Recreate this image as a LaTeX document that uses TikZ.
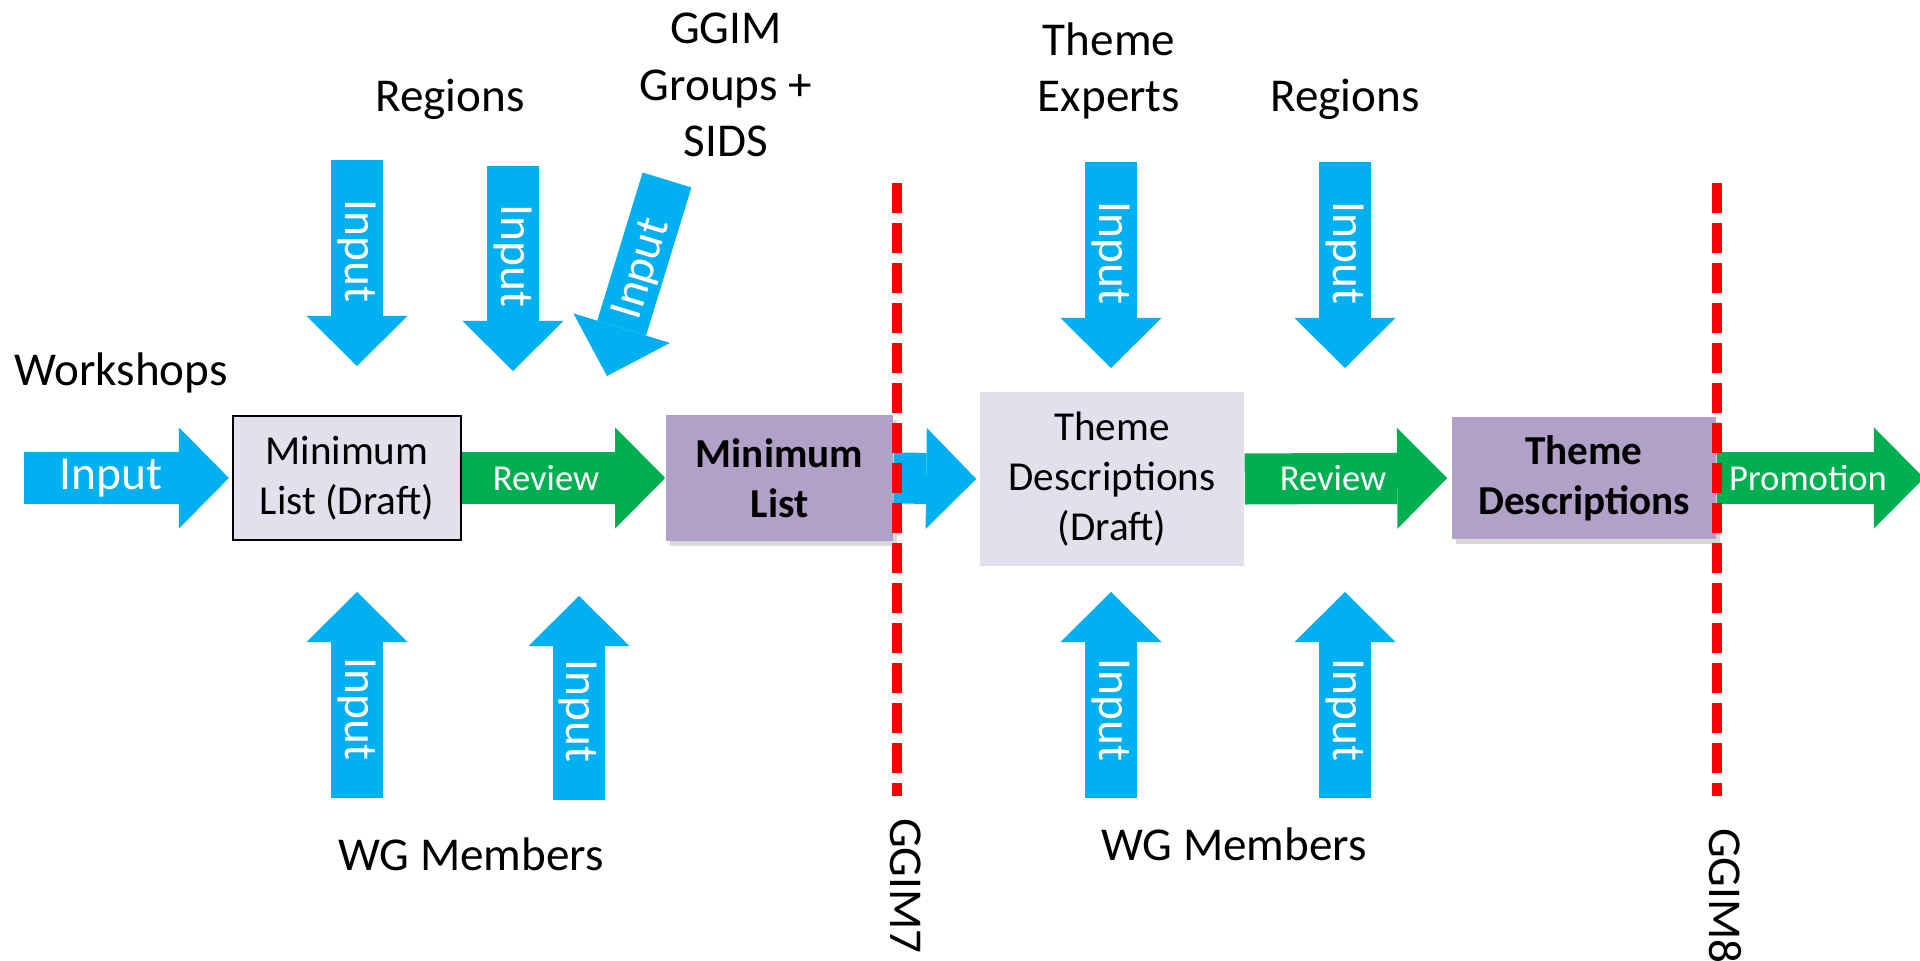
\documentclass[tikz,border=0pt]{standalone}
\usepackage{fontspec}
\setmainfont{Carlito}
\usepackage{tikz}
\usetikzlibrary{arrows.meta,shadows}

\definecolor{inblue}{HTML}{00B0F0}
\definecolor{revgreen}{HTML}{00B050}
\definecolor{listpurple}{HTML}{B1A0C7}
\definecolor{draftgrey}{HTML}{E4DFEC}

\begin{document}
\begin{tikzpicture}[x=0.01cm,y=-0.01cm,
  blockarr/.style={line width=0.51cm,-{Triangle[length=0.5cm,width=1.01cm,line width=0pt]}},
  inarr/.style={blockarr,draw=inblue},
  revarr/.style={blockarr,draw=revgreen},
  big/.style={font=\fontsize{13.4}{16.2}\selectfont,align=center,inner sep=0pt},
  arrtxt/.style={text=white,inner sep=0pt,font=\fontsize{13.5}{16}\selectfont},
  revtxt/.style={text=white,inner sep=0pt,font=\fontsize{10.4}{12}\selectfont},
  draftbox/.style={fill=draftgrey,align=center,inner sep=0pt,font=\fontsize{11.7}{14.3}\selectfont},
  listbox/.style={fill=listpurple,align=center,inner sep=0pt,font=\fontsize{11.7}{14.3}\selectfont\bfseries,
    drop shadow={shadow xshift=0.04cm,shadow yshift=-0.05cm,opacity=0.3}},
  milestone/.style={red,line width=0.1cm,dash pattern=on 0.3cm off 0.1cm}]
\useasboundingbox (0,0) rectangle (1920,961);

% boxes of the main row
\node[draftbox,draw=black,line width=0.02cm,minimum width=2.28cm,minimum height=1.24cm] (mld) at (347,478) {Minimum\\List (Draft)};
\node[listbox,minimum width=2.27cm,minimum height=1.25cm] (ml) at (779.5,478) {Minimum\\List};
\node[draftbox,minimum width=2.64cm,minimum height=1.74cm] (tdd) at (1112,479) {Theme\\Descriptions\\(Draft)};
\node[listbox,minimum width=2.64cm,minimum height=1.21cm] (td) at (1584,478) {Theme\\Descriptions};

% main row arrows
\coordinate (wsin) at (24,478);
\coordinate (promend) at (1924,478);
\draw[inarr,shorten >=0.03cm] (wsin) -- (mld.west);
\draw[revarr] (mld.east) -- (ml.west);
\draw[inarr,shorten >=0.03cm] (ml.east) -- (tdd.west);
\draw[revarr,shorten >=0.04cm] (tdd.east) -- (td.west);
\draw[revarr] (td.east) -- (promend);
\node[arrtxt] at (111,478) {Input};
\node[revtxt] at (546,478) {Review};
\node[revtxt] at (1333,478) {Review};
\node[revtxt] at (1808,478) {Promotion};

% inputs from above
\coordinate (regla) at (357,160);
\coordinate (reglb) at (357,366);
\coordinate (reglc) at (513,166);
\coordinate (regld) at (513,371);
\coordinate (ggima) at (667,180);
\coordinate (ggimb) at (607,376);
\coordinate (expa) at (1111,162);
\coordinate (expb) at (1111,368);
\coordinate (regra) at (1345,162);
\coordinate (regrb) at (1345,368);
\draw[inarr] (regla) -- (reglb);
\draw[inarr] (reglc) -- (regld);
\draw[inarr] (ggima) -- (ggimb);
\draw[inarr] (expa) -- (expb);
\draw[inarr] (regra) -- (regrb);
\node[arrtxt,rotate=-90] at (357,251) {Input};
\node[arrtxt,rotate=-90] at (513,256) {Input};
\node[arrtxt,rotate=73] at (643,269) {Input};
\node[arrtxt,rotate=-90] at (1111,253) {Input};
\node[arrtxt,rotate=-90] at (1345,253) {Input};

% inputs from below
\coordinate (wgla) at (357,798);
\coordinate (wglb) at (357,592);
\coordinate (wglc) at (579,800);
\coordinate (wgld) at (579,596);
\coordinate (wgra) at (1111,798);
\coordinate (wgrb) at (1111,592);
\coordinate (wgrc) at (1345,798);
\coordinate (wgrd) at (1345,592);
\draw[inarr] (wgla) -- (wglb);
\draw[inarr] (wglc) -- (wgld);
\draw[inarr] (wgra) -- (wgrb);
\draw[inarr] (wgrc) -- (wgrd);
\node[arrtxt,rotate=-90] at (357,709) {Input};
\node[arrtxt,rotate=-90] at (578,711) {Input};
\node[arrtxt,rotate=-90] at (1111,710) {Input};
\node[arrtxt,rotate=-90] at (1345,710) {Input};

% sources
\node[big,anchor=base] (wshop) at (121,386) {Workshops};
\node[big,anchor=base] (regl) at (450,112) {Regions};
\node[big,anchor=base] (ggim) at (726,157) {GGIM\\Groups +\\SIDS};
\node[big,anchor=base] (expt) at (1109,112) {Theme\\Experts};
\node[big,anchor=base] (regr) at (1345,112) {Regions};
\node[big,anchor=base] (wgl) at (471,870) {WG Members};
\node[big,anchor=base] (wgr) at (1234,860) {WG Members};

% milestones
\draw[milestone] (897,183) -- (897,796);
\draw[milestone] (1717,183) -- (1717,796);
\node[big,rotate=-90] (g7) at (906,886) {GGIM7};
\node[big,rotate=-90] (g8) at (1725,896) {GGIM8};
\end{tikzpicture}
\end{document}
